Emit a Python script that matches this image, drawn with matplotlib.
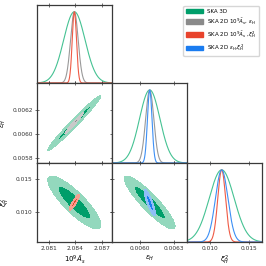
import numpy as np
import matplotlib
matplotlib.use('Agg')
from matplotlib import pyplot as plt
from matplotlib.patches import Patch

# parameter names and fiducial values
labels = [r'$10^9\bar{A}_s$', r'$\epsilon_H$', r'$\xi_H^2$']
means = [2.0839, 0.00609, 0.0115]

# SKA 3D forecast: sigmas and correlations (As-eps, As-xi, eps-xi)
sigma_3d = [0.0012, 0.00009, 0.0016]
corr_3d = [0.982, -0.85, -0.90]

# SKA 2D forecasts (two free parameters each)
sigma_as_eps = [0.00043, 0.000036]
corr_as_eps = 0.982
sigma_as_xi = [0.00024, 0.0005]
corr_as_xi = 0.9
sigma_eps_xi = [0.00002, 0.0008]
corr_eps_xi = -0.85

legend_labels = ['SKA 3D',
                 r'SKA 2D $10^9\bar{A}_s$, $\epsilon_H$',
                 r'SKA 2D $10^9\bar{A}_s$ ,$\xi_H^2$',
                 r'SKA 2D $\epsilon_H$,$\xi_H^2$']

# axis limits / ticks
xlims = [(2.0797, 2.08813), (0.005757, 0.006419), (0.00705, 0.01667)]
ylims = [None, (0.005763, 0.006417), (0.00556, 0.01745)]
xticks = [[2.081, 2.084, 2.087], [0.0060, 0.0063], [0.010, 0.015]]
xtick_fmt = ['%.3f', '%.4f', '%.3f']
yticks = [None, [0.0058, 0.0060, 0.0062], [0.010, 0.015]]
ytick_fmt = [None, '%.4f', '%.3f']

colors = {
    'green': ('#009e6a', '#93d8bd', '#45c293'),
    'gray': ('#8a8a8a', '#c9c9c9', '#9a9a9a'),
    'red': ('#e8432c', '#f3a090', '#ef5a45'),
    'blue': ('#1a7cf0', '#90bef6', '#3c8ff5'),
}

cov3 = np.diag(sigma_3d) @ np.array([[1, corr_3d[0], corr_3d[1]],
                                     [corr_3d[0], 1, corr_3d[2]],
                                     [corr_3d[1], corr_3d[2], 1]]) @ np.diag(sigma_3d)


def cov2(s, r):
    return np.array([[s[0] ** 2, r * s[0] * s[1]], [r * s[0] * s[1], s[1] ** 2]])


# each 2D forecast: (i, j, cov, colour)
forecasts_2d = [(0, 1, cov2(sigma_as_eps, corr_as_eps), 'gray'),
                (0, 2, cov2(sigma_as_xi, corr_as_xi), 'red'),
                (1, 2, cov2(sigma_eps_xi, corr_eps_xi), 'blue')]

fig = plt.figure(figsize=(2.66, 2.66), dpi=100)

W = 266.0
col_x = [37, 112, 187]
col_w = 75
row_y = [5, 83, 163]
row_h = [78, 80, 79]


def make_ax(r, c):
    ax = fig.add_axes([col_x[c] / W, 1 - (row_y[r] + row_h[r]) / W, col_w / W, row_h[r] / W])
    for s in ax.spines.values():
        s.set_color('#3a3a3a')
        s.set_linewidth(0.9)
    ax.tick_params(direction='inout', length=3, width=0.5, labelsize=4.2, pad=1.5,
                   top=True, right=True, colors='#333333')
    return ax


def contour2d(ax, mx, my, c, col, xl, yl):
    x = np.linspace(xl[0], xl[1], 600)
    y = np.linspace(yl[0], yl[1], 600)
    X, Y = np.meshgrid(x, y)
    ic = np.linalg.inv(c)
    dx = X - mx
    dy = Y - my
    chi2 = ic[0, 0] * dx ** 2 + 2 * ic[0, 1] * dx * dy + ic[1, 1] * dy ** 2
    dark, light, _ = colors[col]
    ax.contourf(X, Y, chi2, levels=[0, 2.30, 6.18], colors=[dark, light])


def line1d(ax, m, s, col, xl):
    x = np.linspace(xl[0], xl[1], 500)
    ax.plot(x, np.exp(-0.5 * ((x - m) / s) ** 2), color=colors[col][2], lw=0.8)


for r in range(3):
    for c in range(r + 1):
        ax = make_ax(r, c)
        if r == c:
            # 1D marginals
            line1d(ax, means[r], sigma_3d[r], 'green', xlims[c])
            for (i, j, cv, col) in forecasts_2d:
                if r == i:
                    line1d(ax, means[i], np.sqrt(cv[0, 0]), col, xlims[c])
                elif r == j:
                    line1d(ax, means[j], np.sqrt(cv[1, 1]), col, xlims[c])
            ax.set_ylim(0, 1.095)
            ax.set_yticks([])
            ax.tick_params(left=False, right=False)
        else:
            sub = cov3[np.ix_([c, r], [c, r])]
            contour2d(ax, means[c], means[r], sub, 'green', xlims[c], ylims[r])
            for (i, j, cv, col) in forecasts_2d:
                if i == c and j == r:
                    contour2d(ax, means[c], means[r], cv, col, xlims[c], ylims[r])
            ax.set_ylim(ylims[r])
            ax.set_yticks(yticks[r])
            if c == 0:
                ax.set_yticklabels([ytick_fmt[r] % v for v in yticks[r]])
                ax.set_ylabel(labels[r], fontsize=5, labelpad=3)
            else:
                ax.set_yticklabels([])
        ax.set_xlim(xlims[c])
        ax.set_xticks(xticks[c])
        if r == 2:
            ax.set_xticklabels([xtick_fmt[c] % v for v in xticks[c]])
            ax.set_xlabel(labels[c], fontsize=5, labelpad=2)
        else:
            ax.set_xticklabels([])

handles = [Patch(color=colors[k][0]) for k in ['green', 'gray', 'red', 'blue']]
fig.legend(handles, legend_labels, loc='upper right', bbox_to_anchor=(262 / W, 1 - 3 / W),
           fontsize=4, frameon=True, handlelength=3.0, handleheight=0.9,
           borderpad=0.5, labelspacing=0.5, handletextpad=0.8, edgecolor='#cccccc',
           fancybox=True)

plt.savefig('out.png', dpi=100)
